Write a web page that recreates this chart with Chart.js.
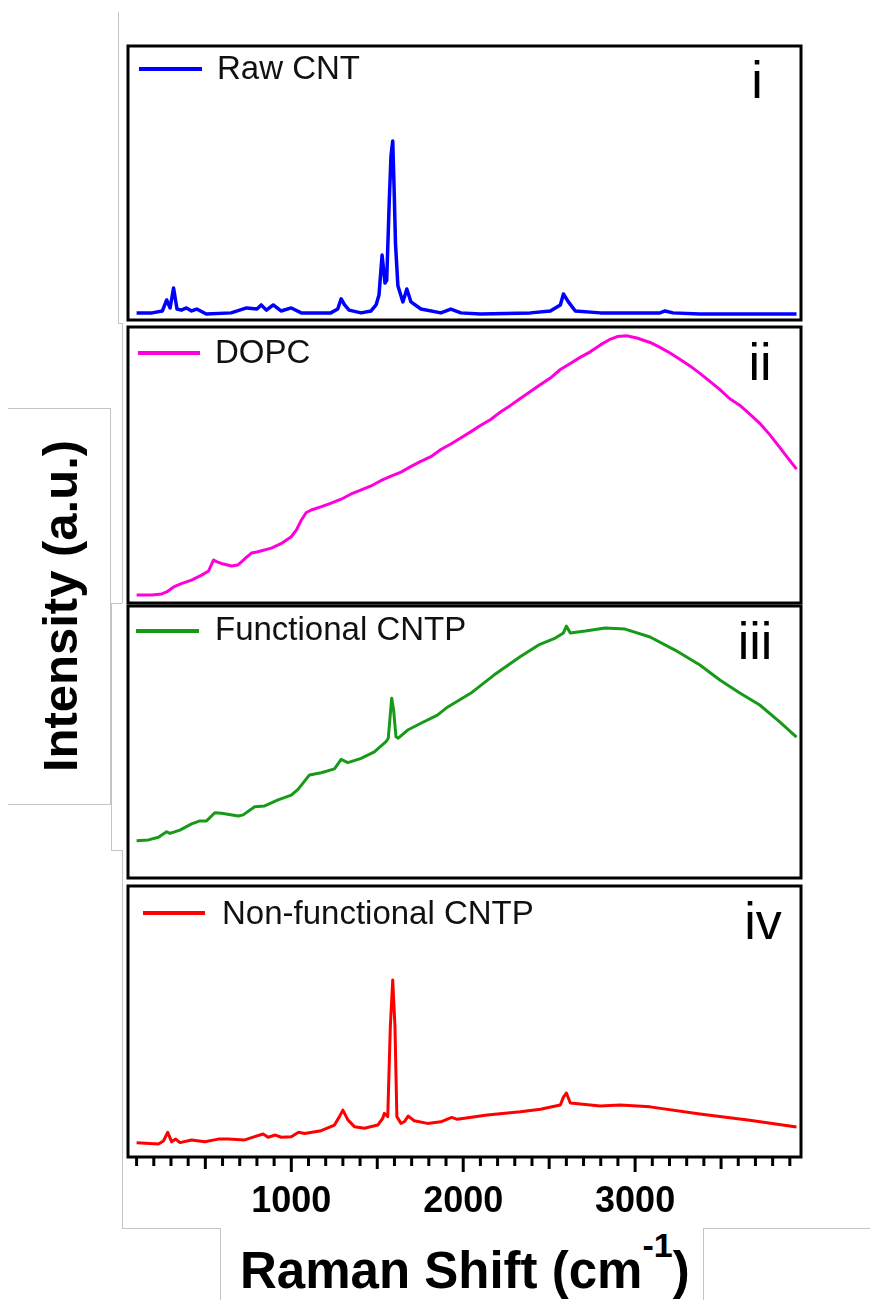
<!DOCTYPE html>
<html>
<head>
<meta charset="utf-8">
<script src="https://cdn.jsdelivr.net/npm/chart.js@4/dist/chart.umd.min.js"></script>
<style>
  body { margin: 0; background: #fff; width: 870px; height: 1300px; position: relative; overflow: hidden;
         font-family: "Liberation Sans", Arial, sans-serif; color: #000; }
  canvas { position: absolute; left: 126px; }
  .key { position: absolute; height: 4px; }
  .name { position: absolute; font-size: 33px; line-height: 33px; color: #111; white-space: nowrap; }
  .num { position: absolute; font-size: 52px; line-height: 52px; white-space: nowrap; transform: translateX(-50%); }
  .rule { position: absolute; background: #c4c4c4; }
  #ytitle { position: absolute; left: 60px; top: 606px; font-weight: bold; font-size: 49px; white-space: nowrap;
            transform: translate(-50%, -50%) rotate(-90deg); }
  #xtitle { position: absolute; left: 240px; top: 1246px; font-weight: bold; font-size: 51px; line-height: 50px; white-space: nowrap; }
  #xtitle span { font-size: 34px; position: relative; top: -31px; }
</style>
</head>
<body>

<!-- faint frame lines around the label areas -->
<div class="rule" style="left:118px;top:12px;width:1px;height:311px"></div>
<div class="rule" style="left:118px;top:323px;width:4px;height:1px"></div>
<div class="rule" style="left:122px;top:323px;width:1px;height:280px"></div>
<div class="rule" style="left:111px;top:603px;width:11px;height:1px"></div>
<div class="rule" style="left:111px;top:603px;width:1px;height:247px"></div>
<div class="rule" style="left:111px;top:850px;width:11px;height:1px"></div>
<div class="rule" style="left:122px;top:850px;width:1px;height:378px"></div>
<div class="rule" style="left:122px;top:1228px;width:98px;height:1px"></div>
<div class="rule" style="left:220px;top:1228px;width:1px;height:72px"></div>
<div class="rule" style="left:703px;top:1228px;width:167px;height:1px"></div>
<div class="rule" style="left:703px;top:1228px;width:1px;height:72px"></div>
<div class="rule" style="left:8px;top:408px;width:102px;height:1px"></div>
<div class="rule" style="left:8px;top:804px;width:102px;height:1px"></div>
<div class="rule" style="left:110px;top:408px;width:1px;height:397px"></div>

<canvas id="c1" width="677" height="278" style="top:44px"></canvas>
<canvas id="c2" width="677" height="280" style="top:325px"></canvas>
<canvas id="c3" width="677" height="276" style="top:604px"></canvas>
<canvas id="c4" width="677" height="341" style="top:884px"></canvas>

<div class="key" style="left:139px;top:67px;width:63px;background:#0000ff"></div>
<div class="name" style="left:217px;top:51px">Raw CNT</div>
<div class="num" style="left:757px;top:54px">i</div>

<div class="key" style="left:138px;top:351px;width:62px;background:#ff00dc"></div>
<div class="name" style="left:215px;top:335px">DOPC</div>
<div class="num" style="left:760px;top:336px">ii</div>

<div class="key" style="left:136px;top:629px;width:63px;background:#179a17"></div>
<div class="name" style="left:215px;top:612px">Functional CNTP</div>
<div class="num" style="left:755px;top:615px">iii</div>

<div class="key" style="left:143px;top:911px;width:62px;background:#ff0000"></div>
<div class="name" style="left:222px;top:896px">Non-functional CNTP</div>
<div class="num" style="left:763px;top:895px">iv</div>

<div id="ytitle">Intensity (a.u.)</div>
<div id="xtitle">Raman Shift (cm<span>-1</span>)</div>

<script>
// Raman shift (cm-1) and relative intensity for each spectrum
const rawShift = [100, 190, 250, 275, 295, 315, 335, 360, 390, 420, 450, 505, 650, 740, 800, 825, 855, 895, 940, 1000,
  1058, 1230, 1270, 1290, 1310, 1336, 1406, 1464, 1493, 1510, 1528, 1545, 1555, 1570, 1580, 1590, 1598, 1606, 1620, 1649,
  1672, 1696, 1754, 1870, 1928, 1986, 2101, 2391, 2507, 2565, 2583, 2612, 2652, 2797, 3145, 3174, 3220, 3377, 3939];
const rawInt = [2.6, 2.6, 3.3, 7.3, 4.4, 11.7, 4.0, 3.6, 4.4, 3.3, 4.0, 2.2, 2.6, 4.4, 4.0, 5.5, 3.6, 5.5, 3.3, 4.4,
  2.6, 2.6, 4.0, 7.7, 5.5, 3.6, 2.6, 3.3, 5.5, 9.1, 23.7, 13.5, 14.5, 43.8, 60, 65.3, 48, 28, 12.5, 6.6,
  11.3, 6.6, 4.0, 2.6, 4.0, 2.6, 2.2, 2.6, 3.3, 5.5, 9.5, 6.6, 3.3, 2.6, 2.6, 3.3, 2.6, 2.2, 2.2];

const dopcShift = [100, 190, 246, 275, 316, 360, 420, 478, 519, 548, 565, 600, 652, 690, 710, 740, 768, 800, 884, 940,
  1000, 1030, 1058, 1087, 1116, 1180, 1232, 1290, 1348, 1400, 1464, 1520, 1580, 1638, 1700, 1750, 1812, 1870, 1928, 1990,
  2043, 2100, 2160, 2217, 2275, 2330, 2391, 2450, 2507, 2565, 2623, 2680, 2739, 2800, 2850, 2900, 2950, 3010, 3087, 3145,
  3203, 3260, 3319, 3377, 3435, 3490, 3551, 3610, 3667, 3730, 3783, 3840, 3870, 3939];
const dopcInt = [2.9, 2.9, 3.3, 4.0, 5.8, 7.0, 8.3, 10.1, 11.6, 15.6, 15.0, 14.2, 13.4, 13.8, 14.9, 16.6, 18.1, 18.5, 19.9, 21.5,
  24.0, 26.5, 30.0, 32.8, 33.7, 35.0, 36.2, 37.6, 39.5, 40.8, 42.4, 44.3, 46.0, 47.4, 49.6, 51.2, 53.0, 55.6, 57.6, 60.0,
  62.0, 64.3, 66.5, 69.2, 71.6, 74.0, 76.6, 79.2, 81.5, 84.6, 86.8, 89.0, 91.0, 93.6, 95.4, 96.6, 96.8, 96.0, 94.4, 92.6,
  90.6, 88.3, 85.9, 83.2, 80.3, 77.5, 74.0, 71.6, 68.4, 64.8, 61.0, 56.5, 54.0, 48.5];

const funcShift = [100, 169, 227, 275, 294, 352, 420, 468, 507, 555, 594, 691, 720, 787, 845, 923, 1000, 1039, 1106, 1174,
  1251, 1290, 1329, 1406, 1483, 1551, 1564, 1584, 1595, 1609, 1622, 1677, 1754, 1850, 1908, 2043, 2179, 2333, 2439, 2536,
  2583, 2600, 2623, 2710, 2826, 2942, 3087, 3232, 3377, 3493, 3609, 3725, 3841, 3939];
const funcInt = [13.7, 14.0, 15.0, 17.0, 16.4, 17.6, 19.9, 21.0, 21.0, 24.0, 23.8, 22.8, 23.2, 26.2, 26.5, 28.7, 30.5, 32.6, 37.9, 38.7,
  40.1, 43.6, 42.4, 44.0, 46.4, 50.1, 51.4, 66.1, 61.8, 51.9, 51.4, 54.4, 56.9, 59.9, 62.8, 67.9, 74.6, 81.4, 85.7, 88.2,
  90.1, 92.6, 90.1, 90.8, 91.9, 91.5, 88.6, 83.8, 78.3, 72.8, 68.0, 63.6, 57.4, 51.8];

const nonShift = [100, 227, 256, 281, 304, 328, 352, 420, 497, 575, 633, 729, 787, 836, 865, 907, 942, 1000, 1042, 1077,
  1174, 1251, 1280, 1300, 1329, 1367, 1425, 1503, 1532, 1541, 1561, 1576, 1590, 1603, 1614, 1638, 1657, 1680, 1715, 1792,
  1870, 1933, 1966, 2140, 2333, 2449, 2565, 2583, 2600, 2623, 2797, 2913, 3087, 3377, 3667, 3939];
const nonInt = [5.3, 4.8, 5.9, 9.1, 5.6, 6.6, 5.3, 6.3, 5.6, 6.6, 6.6, 6.3, 7.5, 8.5, 7.3, 8.1, 7.3, 7.5, 9.1, 8.7,
  9.7, 11.8, 14.9, 17.3, 13.7, 11.2, 10.6, 11.8, 14.3, 16.1, 14.9, 48.1, 65.3, 48.1, 14.9, 12.4, 13.0, 15.1, 13.4, 12.4,
  13.0, 14.6, 13.9, 15.5, 16.7, 17.6, 19.2, 22.1, 23.6, 19.9, 18.8, 19.2, 18.5, 15.9, 13.6, 11.1];

const xTicks = [1000, 2000, 3000];

const toPoints = (xs, ys) => xs.map((x, i) => ({ x, y: ys[i] }));

// black box around each panel
const frame = {
  id: 'frame',
  afterDatasetsDraw(chart) {
    const { ctx, chartArea: a } = chart;
    ctx.save();
    ctx.lineWidth = 3;
    ctx.strokeStyle = '#000';
    ctx.strokeRect(a.left, a.top, a.right - a.left, a.bottom - a.top);
    ctx.restore();
  }
};

// major / half / minor tick marks under the bottom panel
const tickMarks = {
  id: 'tickMarks',
  afterDraw(chart) {
    const sx = chart.scales.x;
    if (!sx.options.display) return;
    const { ctx } = chart;
    const bottom = chart.chartArea.bottom;
    ctx.save();
    ctx.lineWidth = 3;
    ctx.strokeStyle = '#000';
    sx.ticks.forEach(t => {
      const px = sx.getPixelForValue(t.value);
      const len = t.value % 1000 === 0 ? 15 : t.value % 500 === 0 ? 12 : 9;
      ctx.beginPath();
      ctx.moveTo(px, bottom);
      ctx.lineTo(px, bottom + len);
      ctx.stroke();
    });
    ctx.restore();
  }
};

function panel(id, xs, ys, color, width, showAxis) {
  const xScale = {
    type: 'linear',
    min: 50,
    max: 3965,
    display: showAxis,
    border: { display: false },
    grid: { display: false, drawTicks: false },
    ticks: {
      stepSize: 100,
      includeBounds: false,
      autoSkip: false,
      maxRotation: 0,
      padding: 0,
      color: '#000',
      font: { family: '"Liberation Sans", Arial, sans-serif', size: 36, weight: 'bold', lineHeight: 2.5 },
      callback: v => xTicks.includes(v) ? String(v) : ''
    }
  };
  if (showAxis) xScale.afterFit = scale => { scale.height = 68; };

  new Chart(document.getElementById(id), {
    type: 'line',
    data: {
      datasets: [{
        data: toPoints(xs, ys),
        borderColor: color,
        borderWidth: width,
        pointRadius: 0,
        tension: 0,
        borderJoinStyle: 'round',
        fill: false
      }]
    },
    options: {
      responsive: false,
      animation: false,
      events: [],
      layout: { padding: { left: 2, right: 2, top: 2, bottom: showAxis ? 0 : 2 } },
      plugins: { legend: { display: false }, tooltip: { enabled: false } },
      scales: {
        x: xScale,
        y: { min: 0, max: 100, display: false }
      }
    },
    plugins: [frame, tickMarks]
  });
}

panel('c1', rawShift, rawInt, '#0000ff', 3.5, false);
panel('c2', dopcShift, dopcInt, '#ff00dc', 3, false);
panel('c3', funcShift, funcInt, '#179a17', 3, false);
panel('c4', nonShift, nonInt, '#ff0000', 3, true);
</script>
</body>
</html>
